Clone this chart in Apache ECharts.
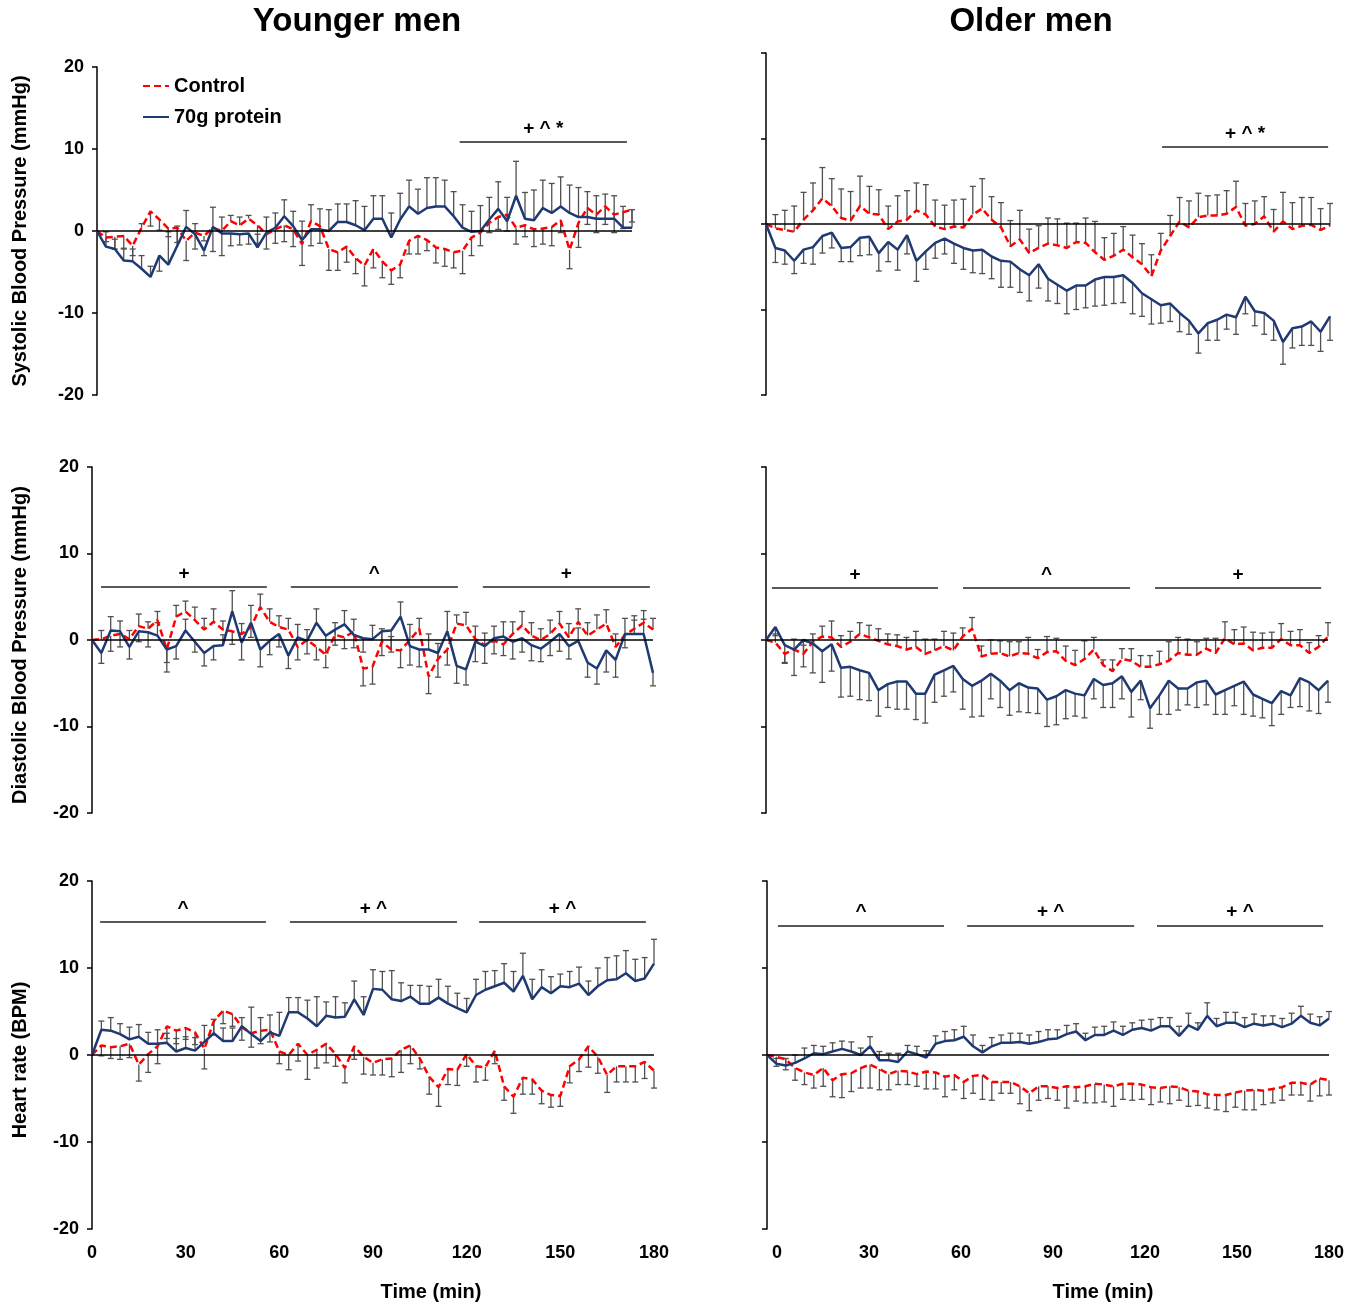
<!DOCTYPE html>
<html lang="en">

<head>
    <meta charset="UTF-8">
    <title>Blood pressure and heart rate</title>
    <script src="https://cdn.jsdelivr.net/npm/echarts@6/dist/echarts.min.js"></script>
    <style>
        body {
            margin: 0;
            background: #fff;
        }

        #container {
            width: 1360px;
            height: 1305px;
        }
    </style>
</head>

<body>
    <div id="container"></div>
</body>
<script>
    var FONT = '"Liberation Sans", Arial, sans-serif';

    // time after ingestion (min)
    var timeMin = [0, 3, 6, 9, 12, 15, 18, 21, 24, 27, 30, 33, 36, 39, 42, 45, 48, 51, 54, 57, 60, 63, 66, 69, 72, 75, 78, 81, 84, 87, 90,
        93, 96, 99, 102, 105, 108, 111, 114, 117, 120, 123, 126, 129, 132, 135, 138, 141, 144, 147, 150, 153, 156, 159, 162, 165, 168, 171, 174, 177, 180];

    // systolic, younger men
    var sbpYoungCtrl = [0, -0.8, -0.7, -0.6, -1.8, 0.4, 2.4, 1.4, 0.3, 0.4, -1.2, -0.2, -0.6, 0.4, 0, 1.2, 0.7, 1.5, 0.7, -0.4, 0.2, 0.7, 0.2, -1.6, 1.2, 0.6, -2.2, -2.6, -1.9, -3.3,
        -4.2, -2.2, -3.7, -4.8, -4.1, -1.2, -0.6, -1.1, -2.0, -2.2, -2.6, -2.4, -0.8, -0.2, 1.0, 1.7, 2.0, 0.4, 0.7, 0.2, 0.3, 0.5, 1.3, -2.3, 1.0, 2.8, 2.0, 3.0, 2.0, 2.3, 2.6];
    var sbpYoungCtrlErr = [0, -0.5, -1.5, -1.6, -1.2, 0.5, -1.8, -1.3, -1.0, -1.8, -2.4, 1.1, -0.6, -2.9, -3.0, 0.7, 1.0, 0.4, -2.2, -1.8, -1.7, -2.0, -2.1, 2.8, 2.0, -2.1, -2.6, -2.2, -1.9, -1.9,
        -2.5, -2.3, -2.0, -1.7, -1.6, -1.6, -2.2, -1.3, -1.9, -2.1, -1.9, -2.8, -2.2, -1.6, -1.2, -1.5, -2.0, -2.0, -1.4, -2.1, -1.9, -2.3, -1.5, -2.3, -3.0, -2.0, -2.2, -2.2, -2.2, -2.0, -1.5];
    var sbpYoungProt = [0, -1.9, -2.2, -3.6, -3.7, -4.6, -5.6, -3.0, -4.1, -1.8, 0.5, -0.4, -2.4, 0.5, -0.3, -0.3, -0.4, -0.3, -2.0, -0.2, 0.4, 1.8, 0.6, -1.1, 0.2, 0.2, 0, 1.1, 1.1, 0.7,
        0.1, 1.5, 1.5, -0.8, 1.4, 3.0, 2.1, 2.8, 3.0, 3.0, 1.8, 0.4, -0.1, 0, 1.4, 2.7, 1.2, 4.3, 1.5, 1.3, 2.8, 2.2, 3.0, 2.2, 1.7, 1.7, 1.5, 1.5, 1.5, 0.4, 0.4];
    var sbpYoungProtErr = [0, 1.8, 1.2, 1.5, 1.5, 1.6, 1.3, -1.9, 4.0, 2.4, 2.0, -1.8, -0.6, 2.4, 2.0, -1.5, -1.3, -1.3, 1.6, 1.9, 1.8, 2.0, 1.8, -3.1, -2.0, 2.5, 2.6, 2.2, 2.2, 3.0,
        2.9, 2.8, 2.8, 3.0, 3.2, 3.2, 3.0, 3.7, 3.5, 3.2, 3.0, 2.8, 2.5, 3.1, 2.7, 3.3, 2.9, 4.2, 3.2, 3.7, 3.4, 3.6, 3.6, 3.4, 3.6, 3.1, 2.8, 3.0, 2.8, 2.6, 2.2];
    var sbpYoungSig = [[122, 178.3, 10.85, '+ ^ *']];

    // systolic, older men
    var sbpOldCtrl = [0, -0.5, -0.7, -0.9, 0.5, 1.6, 3.0, 2.1, 0.7, 0.4, 2.1, 1.2, 1.1, -0.6, 0.3, 0.5, 1.6, 1.1, -0.3, -0.6, -0.3, -0.4, 1.1, 1.8, 0.5, -0.4, -2.6, -1.8, -3.4, -2.8,
        -2.3, -2.5, -2.8, -2.1, -2.2, -3.3, -4.2, -3.7, -3.0, -3.9, -4.7, -6.1, -3.1, -1.4, 0.3, -0.4, 0.8, 1.0, 1.0, 1.2, 2.0, -0.2, 0, 0.9, -0.9, 0.3, -0.6, -0.2, -0.1, -0.7, -0.2];
    var sbpOldCtrlErr = [0, 1.6, 2.3, 3.0, 3.2, 3.2, 3.6, 3.2, 3.4, 3.4, 3.5, 3.2, 2.9, 2.7, 3.0, 3.4, 3.2, 3.5, 3.1, 2.8, 3.1, 3.3, 3.3, 3.5, 2.7, 2.9, 3.0, 3.4, 2.8, 2.6,
        3.0, 3.1, 2.9, 2.2, 2.9, 3.6, 2.6, 2.6, 2.7, 2.6, 2.4, 2.5, 2.0, 2.4, 2.8, 3.1, 2.8, 2.3, 2.4, 2.7, 3.0, 2.6, 2.7, 2.3, 2.6, 3.4, 3.1, 3.3, 3.2, 2.5, 2.6];
    var sbpOldProt = [0, -2.8, -3.1, -4.3, -3.0, -2.7, -1.4, -1.0, -2.8, -2.7, -1.6, -1.5, -3.4, -2.1, -3.0, -1.3, -4.3, -3.2, -2.2, -1.7, -2.3, -2.8, -3.1, -3.0, -3.8, -4.3, -4.4, -5.3, -6.0, -4.7,
        -6.4, -7.1, -7.8, -7.2, -7.2, -6.5, -6.2, -6.2, -6.0, -6.9, -8.1, -8.8, -9.5, -9.3, -10.4, -11.3, -12.8, -11.6, -11.2, -10.6, -10.9, -8.5, -10.2, -10.4, -11.3, -13.8, -12.2, -12.0, -11.4, -12.6, -10.8];
    var sbpOldProtErr = [0, -1.7, -1.6, -1.5, -1.6, -2.0, -2.0, -1.8, -1.6, -1.7, -2.1, -2.1, -2.1, -2.3, -2.4, -2.2, -2.4, -2.1, -1.8, -1.8, -2.3, -2.5, -2.6, -2.8, -2.6, -3.1, -3.0, -2.7, -3.0, -2.8,
        -2.6, -2.2, -2.7, -2.8, -2.6, -3.1, -3.3, -3.1, -3.2, -3.6, -2.7, -2.9, -2.1, -2.1, -2.2, -1.6, -2.3, -2.0, -2.4, -1.7, -2.0, -2.0, -1.7, -2.5, -2.3, -2.6, -2.3, -2.2, -2.8, -2.3, -2.8];
    var sbpOldSig = [[126.4, 179.4, 9.0, '+ ^ *']];

    // diastolic, younger men
    var dbpYoungCtrl = [0, 0.1, 0.5, 0.7, 0.1, 1.6, 1.3, 2.3, -1.1, 2.7, 3.3, 2.3, 1.2, 2.1, 1.2, 1.0, 0.7, 1.5, 3.8, 2.1, 1.5, 1.2, -0.8, 0, -0.8, -1.7, 0.6, 0.3, 1.0, -3.3,
        -3.1, -0.2, -1.1, -1.2, 0, 1.3, -4.2, -2.2, -1.1, 1.9, 1.7, 0.1, -0.6, -0.1, -0.5, 0.7, 1.7, 0.5, 0, 0.7, 1.9, 0.3, 2.1, 0.5, 1.2, 1.9, -0.8, 0.6, 1.3, 2.0, 1.2];
    var dbpYoungCtrlErr = [0, 1.0, -1.8, -1.5, 1.0, 1.4, 0.8, 1.0, -1.5, 1.3, 1.2, 1.5, 1.3, 1.5, 1.0, -1.5, 1.2, -1.2, 1.5, 1.5, 1.3, 1.3, -1.5, 1.2, -1.5, -1.5, 1.4, -1.3, 1.4, -2.0,
        -2.0, 1.5, 1.5, -2.0, 1.8, 1.2, -2.0, 1.8, -1.8, 1.0, 1.5, 1.5, 1.4, -1.5, -1.3, 1.4, 1.6, 1.5, 1.3, 1.6, 1.4, 1.6, 1.5, 1.5, 1.7, 1.6, 1.5, -1.5, 1.5, 1.4, 1.3];
    var dbpYoungProt = [0, -1.5, 1.1, 1.0, -0.8, 1.0, 0.9, 0.5, -1.1, -0.7, 1.1, -0.2, -1.5, -0.7, -0.6, 3.3, -0.3, 2.0, -1.1, -0.1, 0.7, -1.8, 0.3, -0.1, 2.0, 0.5, 1.2, 1.8, 0.6, 0.2,
        0.1, 1.0, 1.1, 2.7, -0.7, -1.1, -1.1, -1.5, 1.0, -3.0, -3.4, -0.2, -0.7, 0.2, 0.4, -0.2, 0.2, -0.6, -1.0, -0.2, 0.7, -0.7, -0.1, -2.6, -3.3, -1.2, -2.3, 0.7, 0.7, 0.7, -3.8];
    var dbpYoungProtErr = [0, -1.2, 1.6, 1.2, -1.4, -1.2, -1.7, 1.5, -2.6, -1.5, 1.3, -1.2, -1.5, -1.6, 1.2, 2.4, -2.0, 2.0, -2.0, -1.6, -1.5, -1.5, 1.5, -1.5, 1.6, -2.0, -1.8, 1.6, -1.5, -1.6,
        1.6, -2.8, -2.5, 1.7, -2.2, -2.0, 1.8, -2.8, 2.3, -2.0, -1.8, -2.3, -2.0, 1.4, 1.7, -2.0, -1.6, -1.8, -1.5, -1.6, -2.0, -1.5, 1.5, -1.7, -1.8, -2.5, -2.0, 1.8, 1.6, 1.7, -1.5];
    var dbpYoungSig = [[2.9, 56.1, 6.1, '+'], [63.8, 117.4, 6.1, '^'], [125.4, 179.0, 6.1, '+']];

    // diastolic, older men
    var dbpOldCtrl = [0, -0.3, -1.6, -1.1, -1.6, -0.2, 0.4, 0.3, -0.8, -0.2, 0.7, 0.3, -0.1, -0.5, -0.7, -1.1, -0.8, -1.6, -1.2, -0.7, -1.2, 0.4, 1.3, -1.9, -1.6, -1.5, -1.9, -1.5, -1.6, -2.1,
        -1.4, -1.3, -2.4, -2.9, -2.2, -1.1, -2.9, -3.6, -2.2, -2.4, -3.1, -3.1, -2.8, -2.4, -1.5, -1.7, -1.7, -1.0, -1.5, 0.2, -0.5, -0.4, -1.2, -0.9, -0.9, 0.1, -0.6, -0.6, -1.5, -0.8, 0.4];
    var dbpOldCtrlErr = [0, 1.0, -1.0, 1.2, 1.0, 0.9, 1.2, 1.9, 1.3, 1.2, 1.3, 1.4, 1.4, 1.2, 1.3, 1.4, 1.8, 1.7, 1.3, 1.7, 2.0, 1.0, 1.3, 1.2, 1.6, 1.4, 1.7, 1.3, 1.9, 1.0,
        1.8, 1.5, 1.7, 1.7, 2.1, 1.4, 0.6, 1.3, 1.2, 1.4, 1.3, 1.3, 1.5, 2.2, 1.8, 1.8, 1.5, 1.2, 1.7, 1.9, 1.7, 1.9, 2.1, 1.7, 1.8, 1.8, 1.6, 1.8, 1.2, 1.3, 1.6];
    var dbpOldProt = [0, 1.5, -0.6, -1.1, 0, -0.4, -1.3, -0.5, -3.2, -3.1, -3.5, -3.8, -5.8, -5.1, -4.8, -4.8, -6.2, -6.2, -4.0, -3.5, -3.0, -4.5, -5.3, -4.7, -3.9, -4.7, -5.8, -5.0, -5.5, -5.6,
        -6.9, -6.5, -5.8, -6.2, -6.4, -4.5, -5.2, -5.0, -4.2, -6.0, -4.7, -7.9, -6.4, -4.7, -5.6, -5.6, -4.9, -4.7, -6.3, -5.8, -5.3, -4.8, -6.3, -6.8, -7.3, -5.9, -6.4, -4.4, -4.9, -5.8, -4.7];
    var dbpOldProtErr = [0, -1.0, -2.1, -3.0, -3.1, -3.4, -3.6, -3.1, -3.4, -3.4, -3.4, -3.2, -3.0, -2.7, -3.2, -3.2, -3.0, -3.4, -3.2, -3.0, -3.0, -3.5, -3.6, -4.1, -2.9, -3.1, -2.9, -3.3, -2.9, -2.9,
        -3.1, -3.3, -3.3, -2.6, -2.6, -2.3, -2.6, -2.8, -2.6, -2.9, -2.2, -2.3, -2.2, -3.9, -2.5, -1.9, -2.9, -2.8, -2.3, -2.8, -2.3, -3.8, -2.5, -2.2, -2.6, -2.7, -1.4, -3.3, -3.3, -2.7, -2.5];
    var dbpOldSig = [[1.9, 55.1, 6.0, '+'], [63.1, 116.6, 6.0, '^'], [124.6, 177.8, 6.0, '+']];

    // heart rate, younger men
    var hrYoungCtrl = [0, 1.1, 0.9, 1.0, 1.3, -1.1, 0.1, 1.0, 3.3, 2.8, 3.1, 2.6, 0.7, 3.9, 5.1, 4.7, 3.2, 2.5, 2.8, 2.9, 0.4, 0, 1.3, 0, 0.6, 1.3, 0.1, -1.5, 1.0, -0.2,
        -0.9, -0.5, -0.4, 0.6, 1.1, -0.4, -2.5, -3.7, -1.6, -1.7, 0.1, -1.3, -1.4, 0.5, -3.6, -4.8, -2.6, -2.8, -4.1, -4.6, -4.7, -1.3, -0.5, 1.0, -0.2, -2.3, -1.3, -1.3, -1.3, -0.8, -1.8];
    var hrYoungCtrlErr = [0, -1.2, -1.3, -1.5, -1.6, -1.9, -2.1, -2.0, -1.4, -1.5, -1.3, -1.4, -2.3, -1.6, -1.5, -1.4, -1.5, -1.6, -1.5, -1.4, -1.4, -1.7, -2.0, -2.8, -2.1, -2.2, -1.4, -1.7, -1.5, -2.0,
        -1.4, -1.8, -2.1, -2.6, -2.1, -1.2, -2.0, -2.2, -1.8, -1.8, -1.4, -1.8, -1.5, -1.5, -1.6, -1.9, -1.9, -1.7, -1.5, -1.4, -1.2, -1.9, -1.4, -2.4, -1.9, -2.0, -1.8, -1.8, -1.8, -1.9, -2.0];
    var hrYoungProt = [0, 2.9, 2.8, 2.4, 1.8, 2.1, 1.3, 1.3, 1.4, 0.4, 0.8, 0.5, 1.5, 2.5, 1.6, 1.6, 3.3, 2.4, 1.6, 2.6, 2.2, 4.9, 4.9, 4.2, 3.3, 4.5, 4.3, 4.4, 6.4, 4.6,
        7.6, 7.5, 6.4, 6.2, 6.7, 5.9, 5.9, 6.6, 5.9, 5.4, 4.9, 6.9, 7.5, 7.9, 8.3, 7.3, 9.1, 6.4, 7.8, 7.1, 7.9, 7.8, 8.2, 6.9, 7.9, 8.6, 8.7, 9.4, 8.5, 8.8, 10.5];
    var hrYoungProtErr = [0, 1.0, 1.5, 1.2, 1.4, 1.4, 1.3, 1.6, 1.1, 1.5, 1.3, 1.5, 1.9, 1.6, 1.5, 1.5, 1.0, 3.1, 2.7, 2.0, 2.7, 1.7, 1.7, 2.1, 3.4, 1.6, 2.4, 1.6, 2.1, 2.1,
        2.2, 2.1, 3.3, 2.1, 1.3, 2.1, 2.0, 2.1, 2.0, 1.7, 1.6, 1.8, 2.1, 1.8, 2.2, 2.3, 2.6, 2.3, 2.0, 1.9, 1.4, 1.8, 1.9, 1.6, 2.1, 2.6, 2.7, 2.6, 2.5, 2.4, 2.8];
    var hrYoungSig = [[2.6, 55.7, 15.3, '^'], [63.4, 116.9, 15.3, '+ ^'], [124.0, 177.4, 15.3, '+ ^']];

    // heart rate, older men
    var hrOldCtrl = [0, -0.2, -0.5, -1.5, -2.0, -2.3, -1.5, -2.9, -2.2, -2.1, -1.5, -1.1, -1.6, -2.2, -1.8, -1.9, -2.2, -1.9, -2.0, -2.5, -2.3, -3.1, -2.4, -2.3, -3.1, -3.1, -3.1, -3.6, -4.4, -3.6,
        -3.6, -3.8, -3.6, -3.7, -3.6, -3.3, -3.4, -3.6, -3.3, -3.3, -3.4, -3.7, -3.8, -3.6, -3.7, -4.1, -4.2, -4.5, -4.6, -4.6, -4.3, -4.1, -4.0, -4.1, -3.9, -3.7, -3.2, -3.2, -3.4, -2.7, -2.9];
    var hrOldCtrlErr = [0, -1.1, -1.2, -1.4, -1.4, -1.5, -2.1, -1.9, -2.7, -2.1, -2.3, -2.7, -2.4, -1.8, -1.6, -1.5, -1.4, -2.0, -1.9, -2.3, -1.7, -1.9, -2.0, -2.8, -2.1, -1.3, -1.3, -2.0, -2.0, -1.6,
        -1.4, -1.4, -2.5, -1.6, -1.9, -2.2, -2.0, -2.3, -1.8, -1.9, -1.7, -2.0, -1.6, -2.0, -1.5, -1.8, -1.6, -1.6, -1.7, -1.9, -1.7, -2.2, -2.3, -1.6, -1.6, -1.5, -1.4, -1.4, -1.9, -2.0, -1.7];
    var hrOldProt = [0, -1.0, -1.2, -0.9, -0.4, 0.2, 0.1, 0.4, 0.7, 0.4, 0, 1.0, -0.6, -0.6, -0.8, 0.4, 0.1, -0.3, 1.3, 1.6, 1.7, 2.1, 1.0, 0.3, 1.0, 1.4, 1.4, 1.5, 1.3, 1.5,
        1.8, 1.9, 2.4, 2.7, 1.7, 2.3, 2.3, 2.8, 2.3, 2.9, 3.1, 2.8, 3.3, 3.3, 2.2, 3.4, 2.9, 4.5, 3.3, 3.7, 3.7, 3.2, 3.6, 3.4, 3.6, 3.2, 3.6, 4.5, 3.7, 3.4, 4.2];
    var hrOldProtErr = [0, 0.6, 0.8, 0.9, 1.2, 0.9, 0.9, 1.0, 0.9, 1.1, 0.8, 1.1, 1.0, 0.8, 1.0, 0.7, 0.9, 0.8, 0.9, 1.1, 1.2, 1.2, 1.3, 0.8, 1.0, 0.9, 1.1, 1.0, 1.0, 1.2,
        1.1, 1.0, 1.0, 0.9, 0.8, 0.9, 1.0, 1.0, 1.0, 0.8, 0.9, 1.3, 1.0, 1.0, 1.1, 1.4, 0.8, 1.5, 0.9, 1.2, 1.2, 1.1, 1.1, 1.1, 0.9, 1.0, 1.2, 1.1, 1.0, 1.0, 0.8];
    var hrOldSig = [[3.5, 56.7, 14.9, '^'], [64.1, 117.6, 14.9, '+ ^'], [124.9, 178.1, 14.9, '+ ^']];

    var panels = [
        { ctrl: sbpYoungCtrl, ctrlErr: sbpYoungCtrlErr, prot: sbpYoungProt, protErr: sbpYoungProtErr, sig: sbpYoungSig },
        { ctrl: sbpOldCtrl, ctrlErr: sbpOldCtrlErr, prot: sbpOldProt, protErr: sbpOldProtErr, sig: sbpOldSig },
        { ctrl: dbpYoungCtrl, ctrlErr: dbpYoungCtrlErr, prot: dbpYoungProt, protErr: dbpYoungProtErr, sig: dbpYoungSig },
        { ctrl: dbpOldCtrl, ctrlErr: dbpOldCtrlErr, prot: dbpOldProt, protErr: dbpOldProtErr, sig: dbpOldSig },
        { ctrl: hrYoungCtrl, ctrlErr: hrYoungCtrlErr, prot: hrYoungProt, protErr: hrYoungProtErr, sig: hrYoungSig },
        { ctrl: hrOldCtrl, ctrlErr: hrOldCtrlErr, prot: hrOldProt, protErr: hrOldProtErr, sig: hrOldSig }
    ];

    // plot areas (last one only carries the x labels of the bottom-right panel)
    var layout = [
        { left: 97, top: 67, width: 535, height: 328 },
        { left: 766, top: 53, width: 564, height: 342 },
        { left: 92, top: 467, width: 561, height: 346 },
        { left: 766, top: 467, width: 562, height: 346 },
        { left: 92, top: 881, width: 562, height: 348 },
        { left: 767, top: 881, width: 562, height: 348 },
        { left: 777, top: 881, width: 552, height: 348 }
    ];

    var chart = echarts.init(document.getElementById('container'));

    function pairs(vals, errs) {
        return timeMin.map(function (t, i) {
            return errs ? [t, vals[i], errs[i]] : [t, vals[i]];
        });
    }

    var renderErr = function (params, api) {
        var e = api.value(2);
        if (!e) return null;
        var x = api.value(0), y = api.value(1);
        var p0 = api.coord([x, y]);
        var p1 = api.coord([x, y + e]);
        var st = { stroke: '#505050', lineWidth: 1.3 };
        return {
            type: 'group',
            children: [
                { type: 'line', shape: { x1: p0[0], y1: p0[1], x2: p1[0], y2: p1[1] }, style: st },
                { type: 'line', shape: { x1: p1[0] - 3, y1: p1[1], x2: p1[0] + 3, y2: p1[1] }, style: st }
            ]
        };
    };

    var grid = layout.map(function (g) {
        return { left: g.left, top: g.top, width: g.width, height: g.height, containLabel: false };
    });

    var xAxis = layout.map(function (g, k) {
        var labels = (k === 4 || k === 6);
        return {
            type: 'value', gridIndex: k, min: 0, max: 180, interval: 30,
            axisLine: { show: false }, axisTick: { show: false }, splitLine: { show: false },
            axisLabel: { show: labels, margin: 15, color: '#000', fontSize: 18, fontWeight: 'bold', fontFamily: FONT }
        };
    });

    var yAxis = layout.map(function (g, k) {
        var hidden = (k === 6);
        var left = (k % 2 === 0);
        return {
            type: 'value', gridIndex: k, min: -20, max: 20, interval: 10, show: !hidden,
            axisLine: { show: true, lineStyle: { color: '#000', width: 1.5 } },
            axisTick: { show: true, length: 5, lineStyle: { color: '#000', width: 1.5 } },
            splitLine: { show: false },
            axisLabel: { show: left, margin: 13, color: '#000', fontSize: 18, fontWeight: 'bold', fontFamily: FONT }
        };
    });

    var series = [];
    panels.forEach(function (p, k) {
        series.push({
            type: 'custom', name: 'Control SEM', xAxisIndex: k, yAxisIndex: k, z: 1,
            renderItem: renderErr, data: pairs(p.ctrl, p.ctrlErr), encode: { x: 0, y: 1 }
        });
        series.push({
            type: 'custom', name: 'Protein SEM', xAxisIndex: k, yAxisIndex: k, z: 1,
            renderItem: renderErr, data: pairs(p.prot, p.protErr), encode: { x: 0, y: 1 }
        });
        series.push({
            type: 'line', name: 'Control', xAxisIndex: k, yAxisIndex: k, z: 3,
            symbol: 'none', data: pairs(p.ctrl),
            lineStyle: { color: '#ff0000', width: 2.5, type: [7, 4] },
            itemStyle: { color: '#ff0000' }
        });
        var marks = [{ yAxis: 0, label: { show: false }, lineStyle: { color: '#000', width: 1.5, type: 'solid' } }];
        p.sig.forEach(function (s) {
            marks.push([
                {
                    coord: [s[0], s[2]],
                    label: {
                        show: true, formatter: s[3], position: 'insideMiddleTop', distance: 4,
                        color: '#000', fontSize: 19, fontWeight: 'bold', fontFamily: FONT
                    },
                    lineStyle: { color: '#222', width: 1.5, type: 'solid' }
                },
                { coord: [s[1], s[2]] }
            ]);
        });
        series.push({
            type: 'line', name: '70g protein', xAxisIndex: k, yAxisIndex: k, z: 4,
            symbol: 'none', data: pairs(p.prot),
            lineStyle: { color: '#1f3a73', width: 2.5 },
            itemStyle: { color: '#1f3a73' },
            markLine: { silent: true, symbol: ['none', 'none'], animation: false, data: marks }
        });
    });

    var legendText = { fontSize: 20, fontWeight: 'bold', fontFamily: FONT, color: '#000' };
    var legendBase = { left: 137, itemWidth: 26, itemHeight: 14, itemGap: 4, textStyle: legendText, itemStyle: { opacity: 0 } };

    var option = {
        animation: false,
        grid: grid,
        xAxis: xAxis,
        yAxis: yAxis,
        legend: [
            Object.assign({ data: ['Control'], top: 71 }, legendBase),
            Object.assign({ data: ['70g protein'], top: 102 }, legendBase)
        ],
        graphic: [
            { type: 'text', x: 357, y: 22, style: { text: 'Younger men', font: 'bold 33px ' + FONT, align: 'center', verticalAlign: 'middle', fill: '#000' } },
            { type: 'text', x: 1031, y: 22, style: { text: 'Older men', font: 'bold 33px ' + FONT, align: 'center', verticalAlign: 'middle', fill: '#000' } },
            { type: 'text', x: 431, y: 1292, style: { text: 'Time (min)', font: 'bold 20px ' + FONT, align: 'center', verticalAlign: 'middle', fill: '#000' } },
            { type: 'text', x: 1103, y: 1292, style: { text: 'Time (min)', font: 'bold 20px ' + FONT, align: 'center', verticalAlign: 'middle', fill: '#000' } },
            { type: 'text', x: 20, y: 231, rotation: Math.PI / 2, style: { text: 'Systolic Blood Pressure (mmHg)', font: 'bold 20px ' + FONT, align: 'center', verticalAlign: 'middle', fill: '#000' } },
            { type: 'text', x: 20, y: 645, rotation: Math.PI / 2, style: { text: 'Diastolic Blood Pressure (mmHg)', font: 'bold 20px ' + FONT, align: 'center', verticalAlign: 'middle', fill: '#000' } },
            { type: 'text', x: 20, y: 1060, rotation: Math.PI / 2, style: { text: 'Heart rate (BPM)', font: 'bold 20px ' + FONT, align: 'center', verticalAlign: 'middle', fill: '#000' } }
        ],
        series: series
    };

    chart.setOption(option);
</script>

</html>
